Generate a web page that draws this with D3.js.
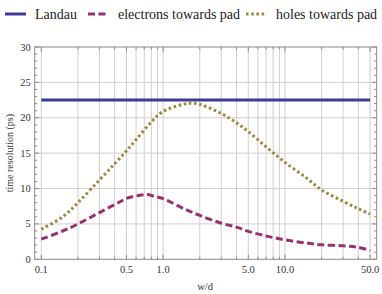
<!DOCTYPE html>
<html><head><meta charset="utf-8">
<script src="https://cdn.jsdelivr.net/npm/d3@7"></script>
</head>
<body style="margin:0;background:#fff">
<script>
const seriesNames = ["Landau", "electrons towards pad", "holes towards pad"];
const landauX = [0.1, 50];
const landauY = [22.5, 22.5];
const electronsX = [0.1, 0.15, 0.2, 0.3, 0.44, 0.5, 0.6, 0.73, 0.85, 1.0, 1.5, 2, 3, 4, 5, 7, 10, 15, 20, 30, 40, 50];
const electronsY = [2.85, 4.0, 5.0, 6.6, 8.1, 8.6, 8.95, 9.15, 8.9, 8.57, 7.1, 6.2, 5.1, 4.55, 3.95, 3.3, 2.75, 2.3, 2.05, 1.9, 1.7, 1.25];
const holesX = [0.1, 0.15, 0.2, 0.3, 0.4, 0.5, 0.6, 0.8, 1.0, 1.5, 1.7, 2, 3, 4, 5, 7, 10, 15, 20, 30, 40, 50];
const holesY = [4.25, 6.0, 8.0, 11.2, 13.5, 15.3, 16.9, 19.4, 20.9, 21.95, 22.05, 21.9, 20.6, 19.3, 18.05, 15.9, 13.7, 11.5, 9.8, 8.2, 7.15, 6.4];
const xTickLabels = ["0.1", "0.5", "1.0", "5.0", "10.0", "50.0"];
const xTickValues = [0.1, 0.5, 1, 5, 10, 50];
const yTickValues = [0, 5, 10, 15, 20, 25, 30];
const colors = ["#3d3d99", "#99306f", "#998b3d"];
const FONT = "Liberation Serif";

const W = 382, H = 294;
const svg = d3.select("body").append("svg").attr("width", W).attr("height", H)
  .style("display", "block");

const pL = 34.7, pR = 376.7, pT = 47, pB = 259.3;
const pad = Math.pow(10, Math.log10(500) * 0.02);
const x = d3.scaleLog().domain([0.1 / pad, 50 * pad]).range([pL, pR]);
const y = d3.scaleLinear().domain([0, 30]).range([pB, pT]);

const xGrid = [];
for (let dec of [0.1, 1, 10]) for (let k = 1; k <= 9; k++) { const v = dec * k; if (v <= 50.0001) xGrid.push(v); }
const yGrid = [5, 10, 15, 20, 25];

const g = svg.append("g");
g.selectAll("line.vg").data(xGrid).enter().append("line")
  .attr("x1", d => x(d)).attr("x2", d => x(d)).attr("y1", pT).attr("y2", pB)
  .attr("stroke", "#cfcfcf").attr("stroke-width", 1);
g.selectAll("line.hg").data(yGrid).enter().append("line")
  .attr("x1", pL).attr("x2", pR).attr("y1", d => y(d)).attr("y2", d => y(d))
  .attr("stroke", "#cfcfcf").attr("stroke-width", 1);

svg.append("rect").attr("x", pL).attr("y", pT).attr("width", pR - pL).attr("height", pB - pT)
  .attr("fill", "none").attr("stroke", "#8a8a8a").attr("stroke-width", 1);

const yMinor = d3.range(0, 30.01, 1).filter(v => v % 5 !== 0);
const axisCol = "#8a8a8a";
[[pL, 1], [pR, -1]].forEach(([x0, dir]) => {
  svg.selectAll(null).data(yTickValues).enter().append("line")
    .attr("x1", x0).attr("x2", x0 + dir * 4.5).attr("y1", d => y(d)).attr("y2", d => y(d))
    .attr("stroke", axisCol);
  svg.selectAll(null).data(yMinor).enter().append("line")
    .attr("x1", x0).attr("x2", x0 + dir * 2.5).attr("y1", d => y(d)).attr("y2", d => y(d))
    .attr("stroke", axisCol);
});
const xMinor = xGrid.filter(v => !xTickValues.some(t => Math.abs(t - v) < 1e-9));
[[pB, -1], [pT, 1]].forEach(([y0, dir]) => {
  svg.selectAll(null).data(xTickValues).enter().append("line")
    .attr("x1", d => x(d)).attr("x2", d => x(d)).attr("y1", y0).attr("y2", y0 + dir * 4.5)
    .attr("stroke", axisCol);
  svg.selectAll(null).data(xMinor).enter().append("line")
    .attr("x1", d => x(d)).attr("x2", d => x(d)).attr("y1", y0).attr("y2", y0 + dir * 2.5)
    .attr("stroke", axisCol);
});

svg.selectAll(null).data(yTickValues).enter().append("text")
  .attr("x", pL - 4).attr("y", d => y(d) + 3.5).attr("text-anchor", "end")
  .attr("font-family", FONT).style("font-family", FONT)
  .attr("font-size", 10.5).attr("fill", "#333").text(d => d);
svg.selectAll(null).data(xTickValues).enter().append("text")
  .attr("x", d => x(d)).attr("y", pB + 14).attr("text-anchor", "middle")
  .attr("font-family", FONT).style("font-family", FONT)
  .attr("font-size", 10.5).attr("fill", "#333").text((d, i) => xTickLabels[i]);

svg.append("text").attr("x", 205).attr("y", 290).attr("text-anchor", "middle")
  .attr("font-family", FONT).style("font-family", FONT)
  .attr("font-size", 10.5).attr("fill", "#333").text("w/d");
svg.append("text").attr("transform", `translate(13,${(pT + pB) / 2}) rotate(-90)`)
  .attr("font-family", FONT).style("font-family", FONT)
  .attr("text-anchor", "middle").attr("font-size", 10).attr("fill", "#333").text("time resolution (ps)");

const line = d3.line().x(d => x(d[0])).y(d => y(d[1])).curve(d3.curveCatmullRom.alpha(0.5));
const series = [
  { xs: landauX, ys: landauY, dash: null },
  { xs: electronsX, ys: electronsY, dash: "7,3.5" },
  { xs: holesX, ys: holesY, dash: "2.6,2.6" }
];
series.forEach((s, i) => {
  svg.append("path").attr("d", line(s.xs.map((v, j) => [v, s.ys[j]])))
    .attr("fill", "none").attr("stroke", colors[i]).attr("stroke-width", 3)
    .attr("stroke-dasharray", s.dash);
});

const legX = [5, 88, 246];
const legend = svg.append("g");
seriesNames.forEach((n, i) => {
  legend.append("line").attr("x1", legX[i]).attr("x2", legX[i] + 21).attr("y1", 14).attr("y2", 14)
    .attr("stroke", colors[i]).attr("stroke-width", 3).attr("stroke-dasharray", series[i].dash);
  legend.append("text").attr("x", legX[i] + 30).attr("y", 18.5).attr("font-size", 14)
    .attr("font-family", FONT).style("font-family", FONT)
    .attr("fill", "#222").text(n);
});
</script>
</body></html>
